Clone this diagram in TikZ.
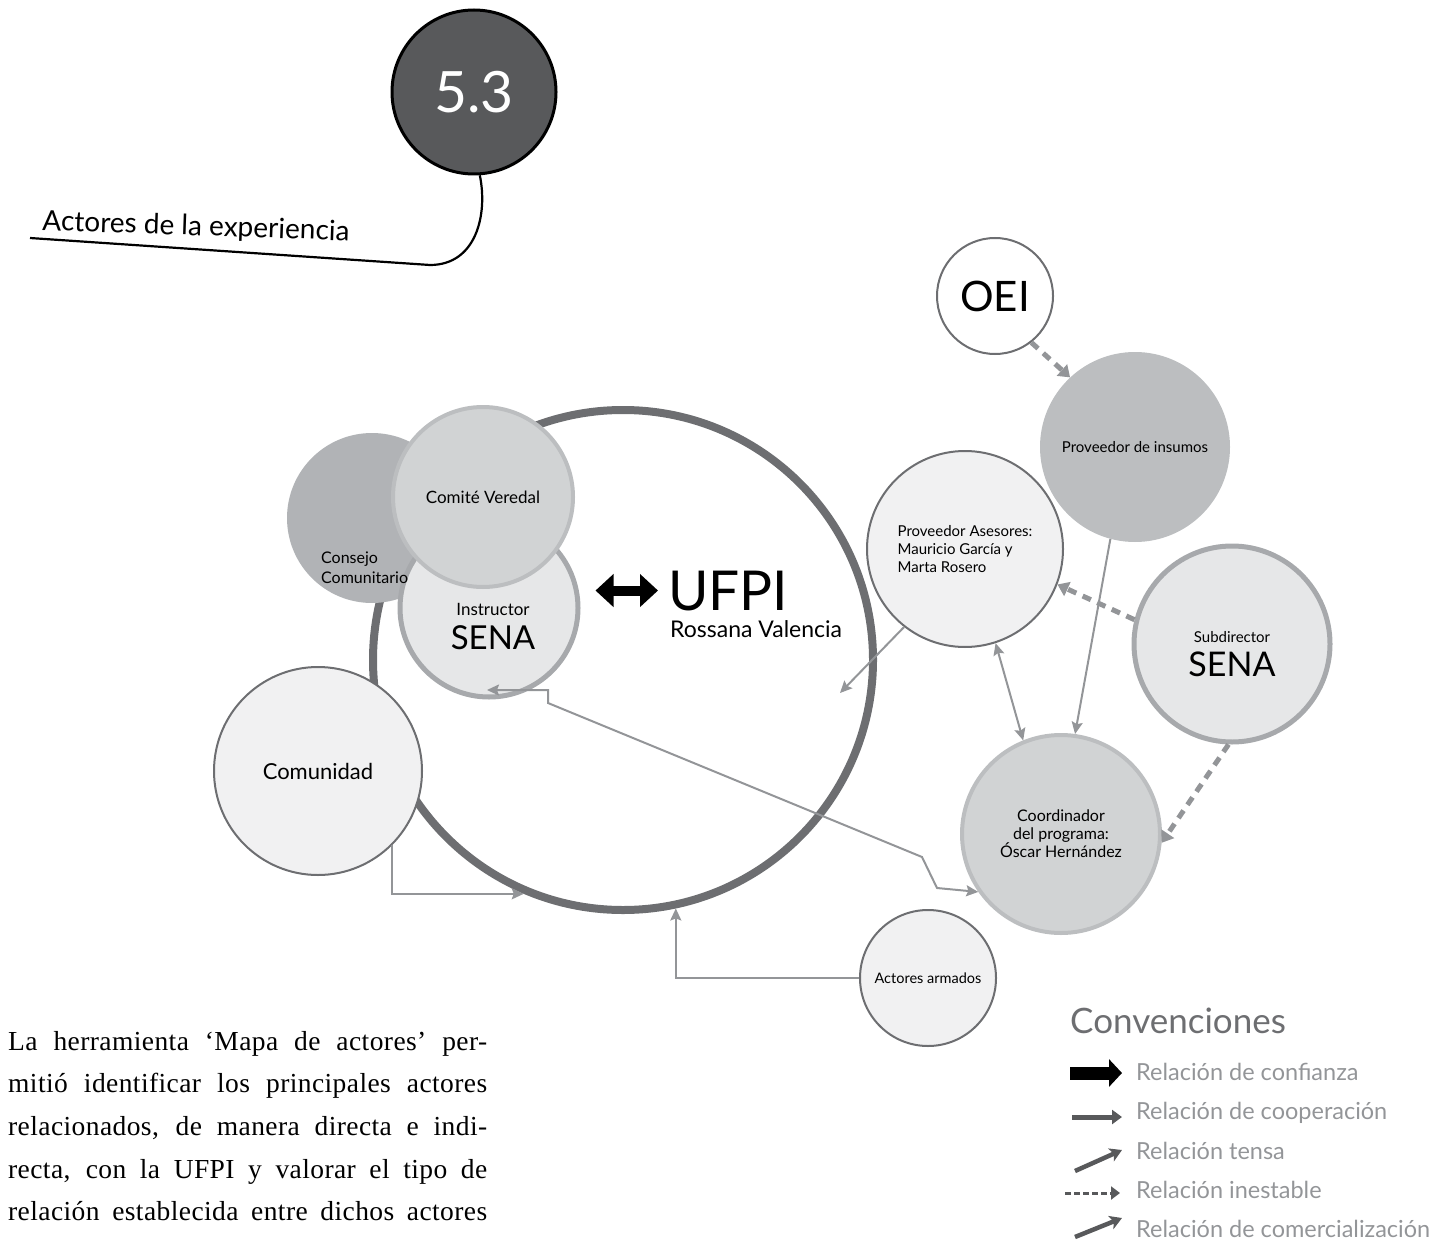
\documentclass[tikz,border=0pt]{standalone}
\usepackage{fontspec}
\setmainfont{Lato}
\newfontfamily\parfont[LetterSpace=1.5]{Liberation Serif}
\usetikzlibrary{arrows.meta,positioning}

\definecolor{gris1}{HTML}{58595B}
\definecolor{gris2}{HTML}{6D6E71}
\definecolor{gris3}{HTML}{939598}
\definecolor{gris4}{HTML}{A7A9AC}
\definecolor{gris45}{HTML}{B1B3B6}
\definecolor{gris5}{HTML}{BCBEC0}
\definecolor{gris6}{HTML}{D1D3D4}
\definecolor{gris7}{HTML}{E6E7E8}
\definecolor{gris8}{HTML}{F1F1F2}

\newcommand{\fsz}[2]{\fontsize{#1}{#2}\selectfont}
\newcommand{\linea}[1]{\makebox[479pt][s]{#1}}

\tikzstyle{actor} = [circle, inner sep=0pt, align=center, text=black]
\tikzstyle{dark} = [actor, draw=gris2, line width=2pt, fill=gris8]
\tikzstyle{soft} = [actor, draw=gris4, line width=5pt, fill=gris7]
\tikzstyle{mid} = [actor, draw=gris5, line width=4pt, fill=gris6]
\tikzstyle{tag} = [inner sep=0pt, align=center, text=black]
\tikzstyle{coop} = [draw=gris3, line width=2pt, ->]
\tikzstyle{inestable} = [draw=gris3, line width=5pt, dash pattern=on 9pt off 7pt, -{Triangle[length=11pt,width=15pt]}]
\tikzstyle{confianza} = [line width=10pt, {Triangle[length=18pt,width=32pt]}-{Triangle[length=18pt,width=32pt]}]
\tikzstyle{legend} = [anchor=base west, inner sep=0pt, text=gris3, font=\fsz{23.5}{26}]
\tikzstyle{lflecha} = [draw=gris1, line width=4.5pt, -{Stealth[length=12pt,width=14pt,inset=3pt]}]

\begin{document}
\begin{tikzpicture}[x=1pt,y=-1pt,>={Stealth[length=12pt,width=11pt,inset=2pt]}]
\useasboundingbox (0,0) rectangle (1450,1241);

% titulo
\node[circle, draw=black, line width=3pt, fill=gris1, minimum size=164pt, text=white, font=\fsz{57}{57}] (badge) at (474,92) {5.3};
\draw[line width=2.2pt] (badge.-86) .. controls (488,215) and (476,265) .. (430,265) -- (30,238);
\node[anchor=base west, rotate=-2, inner sep=0pt, font=\fsz{28}{30}] (titulo) at (42,230) {Actores de la experiencia};

% actores
\node[actor, draw=gris2, line width=8pt, minimum size=500pt] (ufpi) at (623,660) {};
\node[actor, fill=gris45, minimum size=170pt] (consejo) at (372,518) {};
\node[soft, minimum size=178pt] (instr) at (489,608) {};
\node[tag, font=\fsz{33}{34}] (instrtxt) at (493,627) {{\fsz{17}{20}Instructor}\\SENA};
\node[mid, minimum size=180pt, font=\fsz{17}{20}] (comite) at (483,497) {Comité Veredal};
\node[tag, anchor=west, align=left, font=\fsz{16}{20}] (consejotxt) at (321,568) {Consejo\\Comunitario};
\node[dark, minimum size=208pt, font=\fsz{22}{24}] (comun) at (318,771) {Comunidad};

\node[anchor=base west, inner sep=0pt, font=\fsz{55}{55}] (ufpitxt) at (668,610) {UFPI};
\node[anchor=base west, inner sep=0pt, font=\fsz{23}{26}] (rossana) at (670,637) {Rossana Valencia};

\node[dark, fill=white, minimum size=116pt, font=\fsz{42}{42}] (oei) at (995,296) {OEI};
\node[actor, fill=gris5, minimum size=190pt, font=\fsz{15}{18}] (insumos) at (1135,447) {Proveedor de insumos};
\node[dark, minimum size=196pt, align=left, font=\fsz{15}{18}] (asesores) at (965,549) {Proveedor Asesores:\\Mauricio García y\\Marta Rosero};
\node[soft, minimum size=196pt] (subdir) at (1232,644) {};
\node[tag, font=\fsz{34}{34}] (subdirtxt) at (1232,654) {{\fsz{15}{18}Subdirector}\\SENA};
\node[mid, minimum size=198pt, font=\fsz{16}{18}] (coord) at (1061,834) {Coordinador\\del programa:\\Óscar Hernández};
\node[dark, minimum size=136pt, font=\fsz{14.5}{17}] (armados) at (928,978) {Actores armados};

% relaciones
\draw[confianza] ([xshift=15pt]instr.east |- ufpitxt.west) -- ([xshift=-10pt]ufpitxt.west);
\draw[inestable] (oei.-52) -- (insumos.133);
\draw[inestable] (subdir.166) -- (asesores.-21);
\draw[inestable] (subdir.-92) -- (coord.-5);
\draw[coop] (insumos.-105) -- (coord.82);
\draw[coop, <->] (asesores.-72) -- (coord.112);
\coordinate (centro) at (840,693);
\draw[coop] (asesores.-128) -- (centro);
\coordinate (instrpie) at (487,690);
\draw[coop, <->] (instrpie) -- ++(61,0) -- ++(0,13) -- (922,857) -- (937,888) -- (coord.-145);
\draw[coop] (comun.-45) |- (ufpi.-113);
\draw[coop] (armados.west) -| (ufpi.-78);

% convenciones
\node[anchor=base west, inner sep=0pt, text=gris2, font=\fsz{35}{36}] (convenciones) at (1070,1033) {Convenciones};
\node[legend] (lconf) at (1136,1080) {Relación de confianza};
\node[legend] (lcoop) at (1136,1119) {Relación de cooperación};
\node[legend] (ltensa) at (1136,1159) {Relación tensa};
\node[legend] (linest) at (1136,1198) {Relación inestable};
\node[legend] (lcomer) at (1136,1237) {Relación de comercialización};
\draw[line width=13pt, -{Triangle[length=13pt,width=27pt]}] ([xshift=-66pt,yshift=7pt]lconf.base west) -- ([xshift=-14pt,yshift=7pt]lconf.base west);
\draw[draw=gris1, line width=5pt, -{Triangle[length=10pt,width=14pt]}] ([xshift=-64pt,yshift=2pt]lcoop.base west) -- ([xshift=-14pt,yshift=2pt]lcoop.base west);
\draw[lflecha] ([xshift=-61pt,yshift=-12pt]ltensa.base west) -- ([xshift=-14pt,yshift=9pt]ltensa.base west);
\draw[draw=gris1, line width=3pt, dash pattern=on 6pt off 3pt, -{Triangle[length=9pt,width=13pt]}] ([xshift=-71pt,yshift=5pt]linest.base west) -- ([xshift=-16pt,yshift=5pt]linest.base west);
\draw[lflecha] ([xshift=-61pt,yshift=0pt]lcomer.base west) -- ([xshift=-14pt,yshift=19pt]lcomer.base west);

% texto
\node[anchor=north west, inner sep=0pt, text width=479pt, align=left, font=\parfont\fsz{27.5}{42.6}] (texto) at (8,1031) {%
\spaceskip=0.25em plus 3em\relax
\linea{La herramienta ‘Mapa de actores’ per-}\\
\linea{mitió identificar los principales actores}\\
\linea{relacionados, de manera directa e indi-}\\
\linea{recta, con la UFPI y valorar el tipo de}\\
\linea{relación establecida entre dichos actores}};
\end{tikzpicture}
\end{document}
